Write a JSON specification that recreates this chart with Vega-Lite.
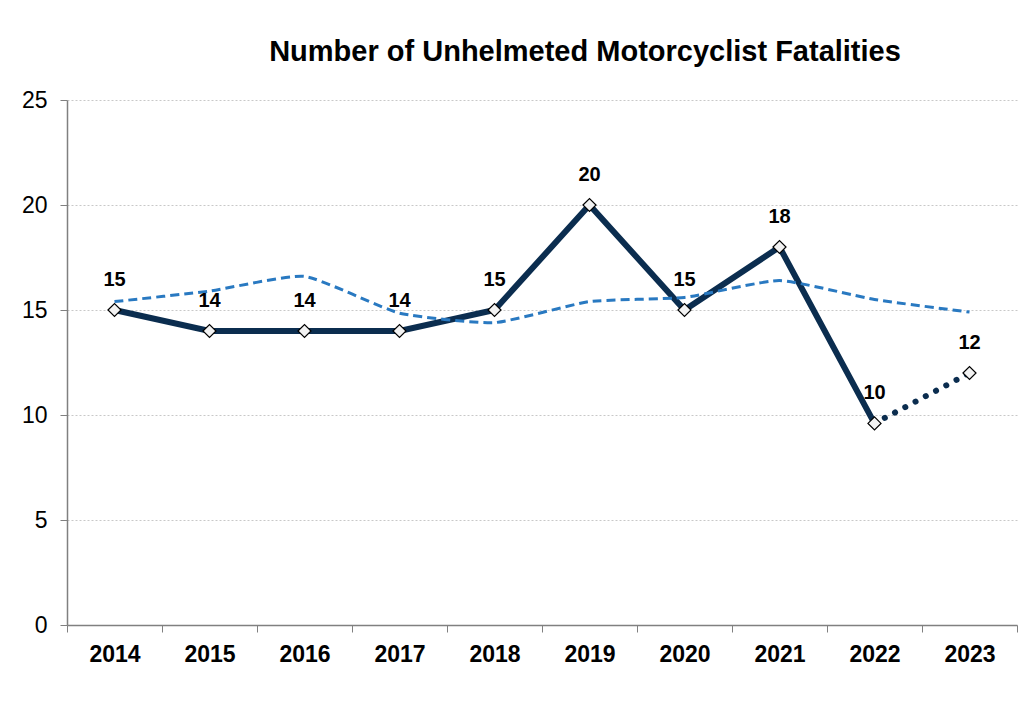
{
  "$schema": "https://vega.github.io/schema/vega-lite/v6.json",
  "width": 950,
  "height": 525,
  "autosize": "none",
  "padding": {"left": 67, "top": 100, "right": 15, "bottom": 79},
  "background": "white",
  "title": {
    "text": "Number of Unhelmeted Motorcyclist Fatalities",
    "font": "Liberation Sans",
    "fontSize": 29,
    "fontWeight": "bold",
    "color": "black",
    "anchor": "middle",
    "dx": 43,
    "offset": 22
  },
  "config": {
    "view": {"stroke": null},
    "font": "Liberation Sans"
  },
  "data": {
    "values": [
      {"year": "2014", "value": 15, "label": "15", "trend": 15.4},
      {"year": "2015", "value": 14, "label": "14", "trend": 15.9},
      {"year": "2016", "value": 14, "label": "14", "trend": 16.6},
      {"year": "2017", "value": 14, "label": "14", "trend": 14.85},
      {"year": "2018", "value": 15, "label": "15", "trend": 14.4},
      {"year": "2019", "value": 20, "label": "20", "trend": 15.4},
      {"year": "2020", "value": 15, "label": "15", "trend": 15.6},
      {"year": "2021", "value": 18, "label": "18", "trend": 16.4},
      {"year": "2022", "value": 9.6, "label": "10", "trend": 15.5},
      {"year": "2023", "value": 12, "label": "12", "trend": 14.9}
    ]
  },
  "encoding": {
    "x": {
      "field": "year",
      "type": "ordinal",
      "scale": {"paddingInner": 0, "paddingOuter": 0},
      "axis": {
        "title": null,
        "labelAngle": 0,
        "labelFont": "Liberation Sans",
        "labelFontSize": 23,
        "labelFontWeight": "bold",
        "labelColor": "black",
        "labelPadding": 11,
        "tickBand": "extent",
        "tickSize": 7,
        "tickColor": "#808080",
        "domainColor": "#808080",
        "domainWidth": 1.5,
        "grid": false
      }
    }
  },
  "layer": [
    {
      "transform": [{"filter": "datum.year <= '2022'"}],
      "mark": {"type": "line", "color": "#0b2d4f", "strokeWidth": 6, "strokeJoin": "miter"},
      "encoding": {
        "y": {
          "field": "value",
          "type": "quantitative",
          "scale": {"domain": [0, 25], "nice": false},
          "axis": {
            "title": null,
            "values": [0, 5, 10, 15, 20, 25],
            "labelFontSize": 23,
            "labelColor": "black",
            "labelPadding": 13,
            "tickSize": 7,
            "tickColor": "#808080",
            "domainColor": "#808080",
            "domainWidth": 1.5,
            "gridColor": "#c8c8c8",
            "gridDash": [2, 2],
            "gridWidth": 1
          }
        }
      }
    },
    {
      "transform": [{"filter": "datum.year >= '2022'"}],
      "mark": {"type": "line", "color": "#0b2d4f", "strokeWidth": 6, "strokeCap": "round", "strokeDash": [0.1, 11.5]},
      "encoding": {"y": {"field": "value", "type": "quantitative"}}
    },
    {
      "mark": {"type": "line", "color": "#2979c1", "strokeWidth": 3, "strokeDash": [9, 5], "interpolate": "cardinal", "tension": 0.5},
      "encoding": {"y": {"field": "trend", "type": "quantitative"}}
    },
    {
      "mark": {"type": "point", "shape": "diamond", "filled": true, "fill": "#f2f2f2", "stroke": "black", "strokeWidth": 1.2, "size": 170, "opacity": 1},
      "encoding": {"y": {"field": "value", "type": "quantitative"}}
    },
    {
      "mark": {"type": "text", "font": "Liberation Sans", "fontSize": 20, "fontWeight": "bold", "color": "black", "baseline": "middle", "dy": -30},
      "encoding": {
        "y": {"field": "value", "type": "quantitative"},
        "text": {"field": "label"}
      }
    }
  ]
}
